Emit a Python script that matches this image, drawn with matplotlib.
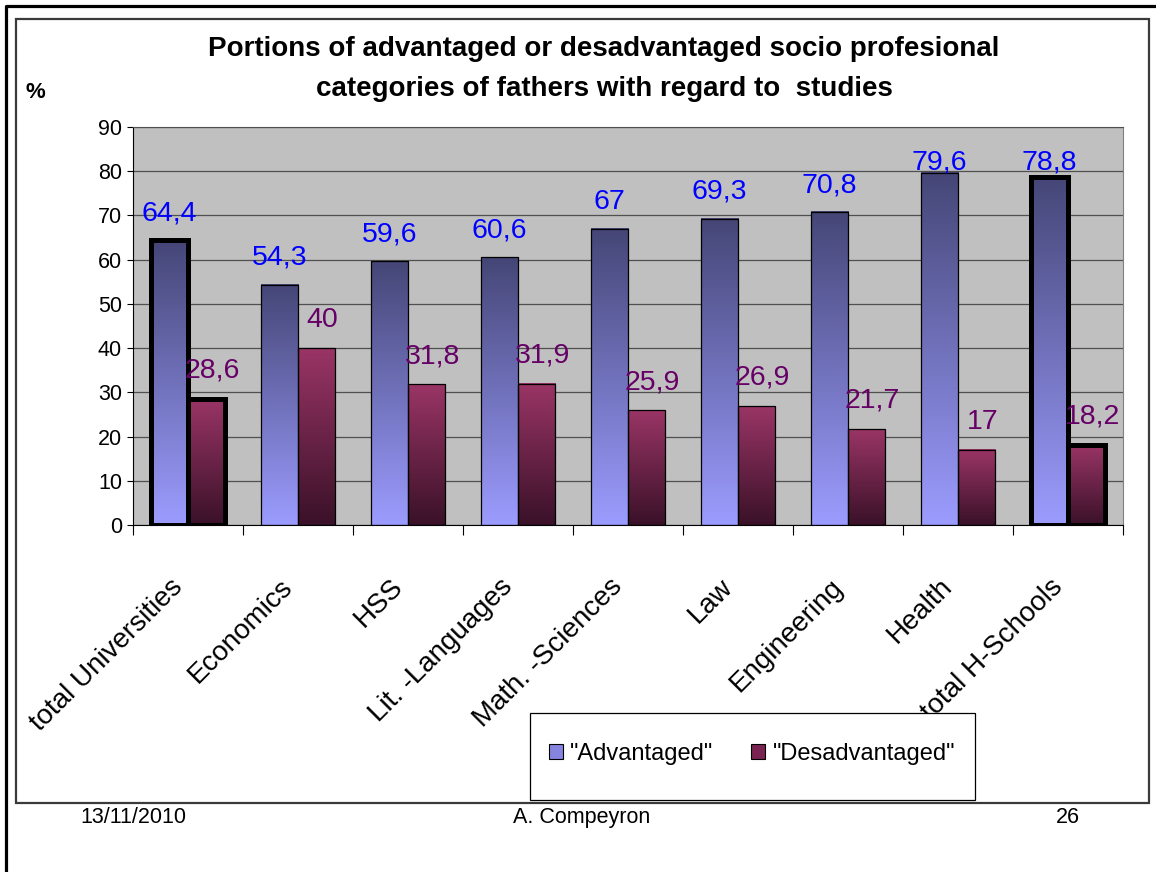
import numpy as np
import matplotlib
matplotlib.use('Agg')
import matplotlib.pyplot as plt
from matplotlib.colors import to_rgb
from matplotlib.patches import Rectangle, Patch
from matplotlib.lines import Line2D

plt.rcParams['font.family'] = ['Liberation Sans', 'DejaVu Sans']

# data
categories = ['total Universities', 'Economics', 'HSS', 'Lit. -Languages',
              'Math. -Sciences', 'Law', 'Engineering', 'Health', 'total H-Schools']
advantaged = [64.4, 54.3, 59.6, 60.6, 67, 69.3, 70.8, 79.6, 78.8]
desadvantaged = [28.6, 40, 31.8, 31.9, 25.9, 26.9, 21.7, 17, 18.2]
series_names = ['"Advantaged"', '"Desadvantaged"']

W, H = 1156, 872
fig = plt.figure(figsize=(W / 100, H / 100), dpi=100)
fig.patch.set_facecolor('white')

def fx(x):
    return x / W

def fy(y):
    return 1 - y / H

# plot area (pixels: x 133..1123, y 127..525)
ax = fig.add_axes([fx(133), fy(525), fx(1123) - fx(133), fy(127) - fy(525)])
ax.set_facecolor('#C0C0C0')

xs = np.arange(len(categories))
bw = 0.34
thick = {0, len(categories) - 1}   # groups drawn with heavy outline


def gradient_bars(xpos, vals, top, bottom):
    top, bottom = np.array(to_rgb(top)), np.array(to_rgb(bottom))
    t = np.linspace(0, 1, 256)[:, None, None]
    img = top + (bottom - top) * t
    for x, v in zip(xpos, vals):
        ax.imshow(img, extent=[x - bw / 2, x + bw / 2, 0, v], aspect='auto',
                  interpolation='bilinear', zorder=2)
    lws = [3.6 if i in thick else 0.9 for i in range(len(vals))]
    ax.bar(xpos, vals, bw, fill=False, edgecolor='black', linewidth=lws,
           zorder=3, joinstyle='miter')


x_adv = xs - 0.17
x_des = xs + 0.17
gradient_bars(x_adv, advantaged, '#454676', '#9C9CFF')
gradient_bars(x_des, desadvantaged, '#9A3566', '#3A1128')

def fmt(v):
    return f'{v:g}'.replace('.', ',')

for x, v in zip(x_adv, advantaged):
    ax.text(x, min(v + 4.5, 80.5), fmt(v), ha='center', va='baseline',
            color='#0000FF', fontsize=20.5, zorder=4)
for x, v in zip(x_des, desadvantaged):
    ax.text(x + 0.05, v + 4.8, fmt(v), ha='center', va='baseline',
            color='#660066', fontsize=20.5, zorder=4)

ax.set_xlim(-0.5, len(categories) - 0.5)
ax.set_ylim(0, 90)
ax.set_yticks(np.arange(0, 91, 10))
ax.yaxis.grid(True, color='#505050', linewidth=0.9)
ax.set_axisbelow(True)

ax.set_xticks(np.arange(-0.5, len(categories), 1))
ax.set_xticklabels([])
ax.set_xticks(xs, categories, minor=True)
ax.tick_params(axis='x', which='major', direction='out', length=7, width=0.8)
ax.tick_params(axis='x', which='minor', length=0, pad=35, labelsize=20)
plt.setp(ax.get_xticklabels(minor=True), rotation=45, ha='right', va='top')
ax.tick_params(axis='y', direction='out', length=4, width=0.8, labelsize=15.5, pad=4)

for side in ['left', 'bottom']:
    ax.spines[side].set_color('black')
    ax.spines[side].set_linewidth(0.8)
ax.spines['top'].set_color('#505050')
ax.spines['right'].set_color('#808080')

# titles and slide texts
fig.text(fx(604), fy(69), 'Portions of advantaged or desadvantaged socio profesional\n'
         'categories of fathers with regard to  studies',
         ha='center', va='center', fontsize=20, fontweight='bold', linespacing=1.7)
fig.text(fx(35), fy(92), '%', ha='center', va='center', fontsize=16, fontweight='bold')

fig.text(fx(133), fy(817), '13/11/2010', ha='center', va='center', fontsize=15.5)
fig.text(fx(582), fy(817), 'A. Compeyron', ha='center', va='center', fontsize=15.5)
fig.text(fx(1068), fy(817), '26', ha='center', va='center', fontsize=15.5)

# slide border and chart frame
fig.add_artist(Line2D([fx(5.5), fx(5.5), 1], [0, fy(6), fy(6)],
                      color='black', linewidth=2.3, transform=fig.transFigure))
fig.add_artist(Rectangle((fx(15.5), fy(803)), fx(1149) - fx(15.5), fy(18.5) - fy(803),
                         fill=False, edgecolor='#3A3A3A', linewidth=1.6,
                         transform=fig.transFigure))

# legend box
fig.add_artist(Rectangle((fx(530), fy(800)), fx(975) - fx(530), fy(713) - fy(800),
                         facecolor='white', edgecolor='black', linewidth=0.9,
                         transform=fig.transFigure, zorder=3))
handles = [Patch(facecolor='#8585E0', edgecolor='black', linewidth=0.8),
           Patch(facecolor='#7A2352', edgecolor='black', linewidth=0.8)]
leg = fig.legend(handles, series_names, loc='center',
                 bbox_to_anchor=(fx(752), fy(754)), ncol=2, frameon=False,
                 fontsize=17, handlelength=0.6, handleheight=0.6,
                 handletextpad=0.3, columnspacing=1.6)
leg.set_zorder(4)

fig.savefig('out.png', dpi=100)
